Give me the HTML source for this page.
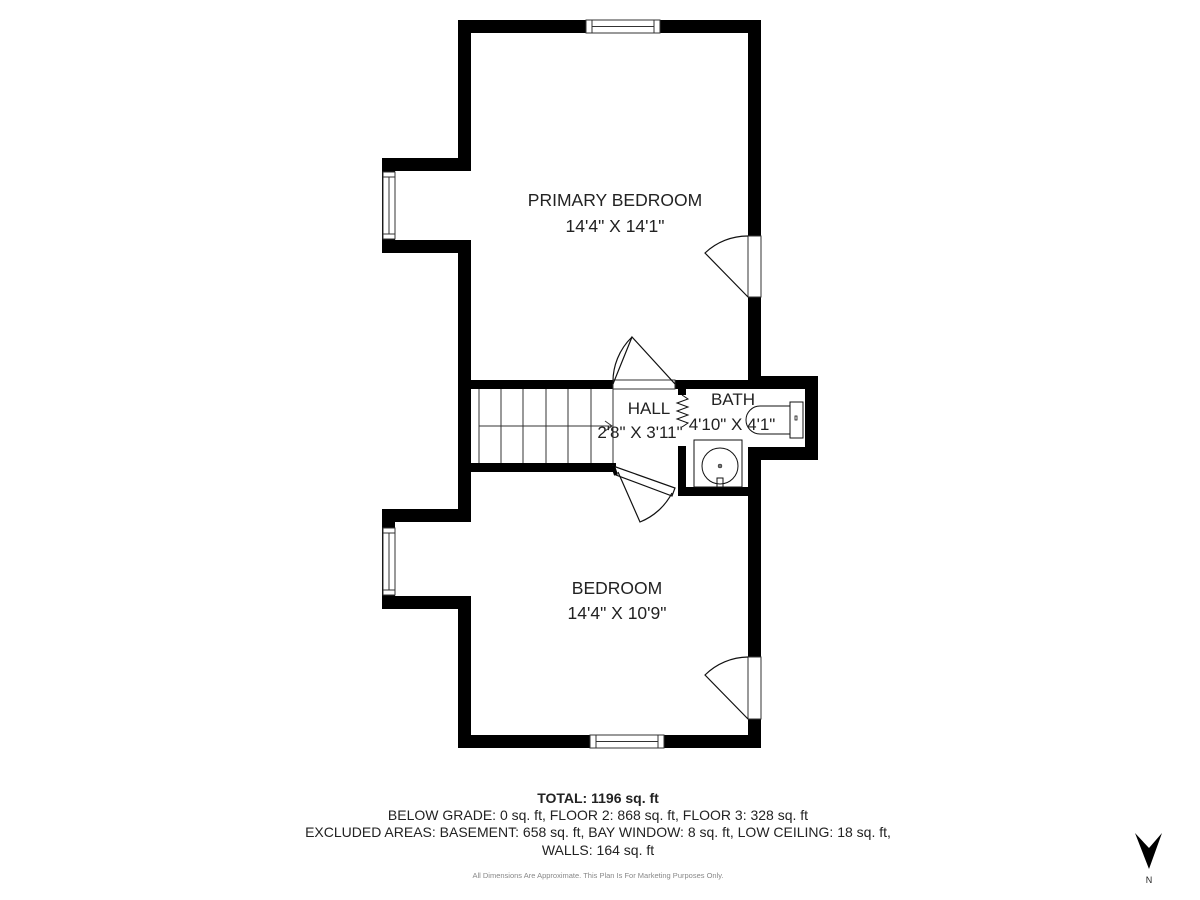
<!DOCTYPE html>
<html><head><meta charset="utf-8"><style>
html,body{margin:0;padding:0;background:#fff;}
svg{display:block;}
text{font-family:"Liberation Sans",sans-serif;fill:#222;}
</style></head><body>
<svg width="1200" height="900" viewBox="0 0 1200 900" xmlns="http://www.w3.org/2000/svg">
<rect width="1200" height="900" fill="#fff"/>
<g fill="#000">
<rect x="458" y="20" width="303" height="13"/>
<rect x="458" y="20" width="13" height="151"/>
<rect x="382" y="158" width="89" height="13"/>
<rect x="382" y="158" width="13" height="95"/>
<rect x="382" y="240" width="89" height="13"/>
<rect x="458" y="240" width="13" height="282"/>
<rect x="748" y="20" width="13" height="369"/>
<rect x="458" y="380" width="360" height="9"/>
<rect x="805" y="376" width="13" height="84"/>
<rect x="748" y="376" width="70" height="13"/>
<rect x="748" y="447" width="70" height="13"/>
<rect x="458" y="463" width="158" height="9"/>
<rect x="678" y="380" width="8" height="15"/>
<rect x="678" y="446" width="8" height="49"/>
<rect x="678" y="487" width="83" height="9"/>
<rect x="748" y="447" width="13" height="301"/>
<rect x="382" y="509" width="89" height="13"/>
<rect x="382" y="509" width="13" height="100"/>
<rect x="382" y="596" width="89" height="13"/>
<rect x="458" y="596" width="13" height="152"/>
<rect x="458" y="735" width="303" height="13"/>
</g>
<g fill="#fff" stroke="#333" stroke-width="1">
<rect x="586" y="20" width="74" height="13"/>
<line x1="592" y1="20" x2="592" y2="33"/><line x1="654" y1="20" x2="654" y2="33"/>
<line x1="592" y1="26.5" x2="654" y2="26.5"/>
<rect x="383" y="172" width="12" height="67"/>
<line x1="383" y1="177" x2="395" y2="177"/><line x1="383" y1="234" x2="395" y2="234"/>
<line x1="389" y1="177" x2="389" y2="234"/>
<rect x="383" y="528" width="12" height="67"/>
<line x1="383" y1="533" x2="395" y2="533"/><line x1="383" y1="590" x2="395" y2="590"/>
<line x1="389" y1="533" x2="389" y2="590"/>
<rect x="590" y="735" width="74" height="13"/>
<line x1="596" y1="735" x2="596" y2="748"/><line x1="658" y1="735" x2="658" y2="748"/>
<line x1="596" y1="741.5" x2="658" y2="741.5"/>
<rect x="748" y="236" width="13" height="61"/>
<rect x="748" y="657" width="13" height="62"/>
<rect x="613" y="380" width="62" height="9"/>
</g>
<g fill="none" stroke="#111" stroke-width="1.2">
<path d="M748 297 L705 253 A62 62 0 0 1 748 236"/>
<path d="M748 719 L705 675 A62 62 0 0 1 748 657"/>
<path d="M613 384 L632 337 L675 384"/>
<path d="M613 384 A62 62 0 0 1 632 337"/>
<path d="M613 466 L675 488 L672 496 L616 475 Z" fill="#fff" stroke-width="1.2"/>
<path d="M613 466 L616 475" stroke="#000" stroke-width="4"/>
<path d="M618 472 L640 522 A62 62 0 0 0 672 493"/>
<g stroke="#333" stroke-width="1">
<line x1="479" y1="389" x2="479" y2="463"/>
<line x1="501" y1="389" x2="501" y2="463"/>
<line x1="523" y1="389" x2="523" y2="463"/>
<line x1="546" y1="389" x2="546" y2="463"/>
<line x1="568" y1="389" x2="568" y2="463"/>
<line x1="591" y1="389" x2="591" y2="463"/>
<line x1="613" y1="389" x2="613" y2="463"/>
<line x1="479" y1="426" x2="612" y2="426"/>
<path d="M605 421 L612 426 L605 431"/>
</g>
<path d="M682 395 L688 399 L677 403 L688 407 L677 411 L688 415 L677 419 L688 423 L682 427" stroke-width="1"/>
<path d="M790 406 L760 406 A14 14 0 0 0 760 434 L790 434" stroke-width="1"/>
<rect x="790" y="402" width="13" height="36" stroke-width="1"/>
<rect x="795" y="416" width="2" height="4" stroke-width="0.8"/>
<rect x="694" y="440" width="48" height="47" stroke-width="1"/>
<circle cx="720" cy="466" r="18" stroke-width="1"/>
<circle cx="720" cy="466" r="2" fill="#777" stroke-width="0.5"/>
<rect x="717" y="478" width="6" height="9" stroke-width="1"/>
</g>
<text x="615" y="206" font-size="17.5" text-anchor="middle">PRIMARY BEDROOM</text>
<text x="615" y="232" font-size="17.5" text-anchor="middle">14'4" X 14'1"</text>
<text x="649" y="414" font-size="17" text-anchor="middle">HALL</text>
<text x="640" y="438" font-size="17" text-anchor="middle">2'8" X 3'11"</text>
<text x="733" y="405" font-size="17" text-anchor="middle">BATH</text>
<text x="732" y="430" font-size="17" text-anchor="middle">4'10" X 4'1"</text>
<text x="617" y="594" font-size="17.5" text-anchor="middle">BEDROOM</text>
<text x="617" y="619" font-size="17.5" text-anchor="middle">14'4" X 10'9"</text>
<text x="598" y="803" font-size="14" font-weight="bold" text-anchor="middle">TOTAL: 1196 sq. ft</text>
<text x="598" y="820" font-size="14" text-anchor="middle">BELOW GRADE: 0 sq. ft, FLOOR 2: 868 sq. ft, FLOOR 3: 328 sq. ft</text>
<text x="598" y="837" font-size="14" text-anchor="middle">EXCLUDED AREAS: BASEMENT: 658 sq. ft, BAY WINDOW: 8 sq. ft, LOW CEILING: 18 sq. ft,</text>
<text x="598" y="855" font-size="14" text-anchor="middle">WALLS: 164 sq. ft</text>
<text x="598" y="878" font-size="7.5" text-anchor="middle" style="fill:#888">All Dimensions Are Approximate. This Plan Is For Marketing Purposes Only.</text>
<path d="M1135 833 L1149 848 L1162 833 L1149 869 Z" fill="#000"/>
<text x="1149" y="883" font-size="9" text-anchor="middle">N</text>
</svg>
</body></html>
